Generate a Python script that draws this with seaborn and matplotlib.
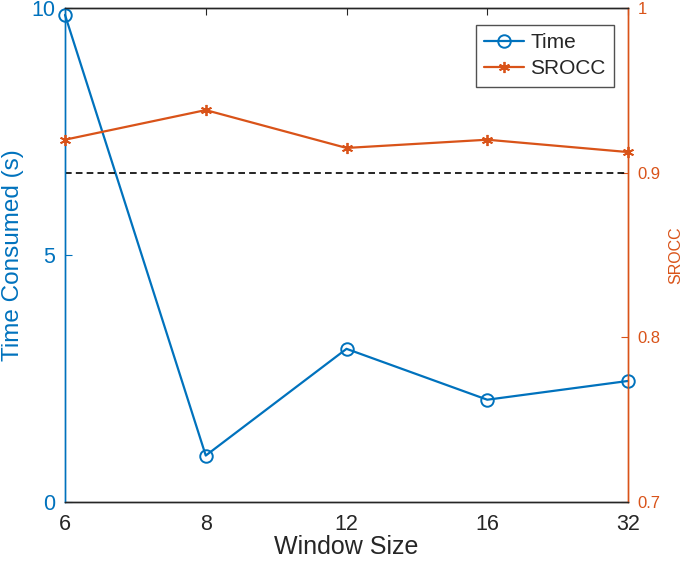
import seaborn as sns
import pandas as pd
import matplotlib.pyplot as plt

window_sizes = ['6', '8', '12', '16', '32']
time_consumed = [9.86, 0.94, 3.10, 2.07, 2.45]
srocc = [0.920, 0.938, 0.915, 0.920, 0.9125]
threshold = 0.9

blue = '#0072BD'
orange = '#D95319'

sns.set_style('white')
plt.rcParams['font.family'] = ['Liberation Sans', 'DejaVu Sans']

df = pd.DataFrame({'pos': range(len(window_sizes)), 'Time': time_consumed, 'SROCC': srocc})

fig = plt.figure(figsize=(6.85, 5.62), dpi=100)
ax = fig.add_axes([0.0949, 0.1068, 0.8219, 0.879])
ax2 = ax.twinx()

sns.lineplot(data=df, x='pos', y='Time', ax=ax, color=blue, marker='o', markersize=9,
             markerfacecolor='none', markeredgecolor=blue, markeredgewidth=1.4, linewidth=1.6,
             label='Time', legend=False, clip_on=False, zorder=5)
sns.lineplot(data=df, x='pos', y='SROCC', ax=ax2, color=orange, marker=(6, 2, 0), markersize=8,
             markeredgecolor=orange, markeredgewidth=1.3, linewidth=1.6,
             label='SROCC', legend=False, clip_on=False, zorder=5)
ax2.axhline(threshold, color='black', linestyle='--', linewidth=1.2, dashes=(4, 2.5))

ax.set_xlim(0, len(window_sizes) - 1)
ax.set_ylim(0, 10)
ax2.set_ylim(0.7, 1)
ax.set_xticks(df['pos'])
ax.set_xticklabels(window_sizes)
ax.set_yticks([0, 5, 10])
ax2.set_yticks([0.7, 0.8, 0.9, 1.0])
ax2.set_yticklabels(['0.7', '0.8', '0.9', '1'])

ax.set_xlabel('Window Size', fontsize=18, color='#262626', labelpad=0)
ax.set_ylabel('Time Consumed (s)', fontsize=17.5, color=blue, labelpad=5)
ax2.set_ylabel('SROCC', fontsize=11.5, color=orange, labelpad=5)

ax.tick_params(axis='x', direction='in', length=5, labelsize=15.5, colors='#262626', top=True, pad=9)
ax.tick_params(axis='y', direction='in', length=5, labelsize=15.5, colors=blue, pad=7)
ax2.tick_params(axis='y', direction='in', length=5, labelsize=12, colors=orange, pad=7)

for a in (ax, ax2):
    for s in a.spines.values():
        s.set_visible(True)
        s.set_linewidth(1.0)
        s.set_color('#262626')
ax2.spines['left'].set_color(blue)
ax2.spines['right'].set_color(orange)
ax.spines['left'].set_color(blue)
ax.spines['right'].set_color(orange)

h1, l1 = ax.get_legend_handles_labels()
h2, l2 = ax2.get_legend_handles_labels()
leg = ax2.legend(h1 + h2, l1 + l2, loc='upper right', bbox_to_anchor=(0.975, 0.966),
                 borderaxespad=0, fontsize=15, frameon=True, fancybox=False, edgecolor='#262626',
                 handlelength=1.9, handletextpad=0.3, borderpad=0.4, labelspacing=0.35)
leg.get_frame().set_linewidth(1.0)

fig.savefig('out.png', dpi=100)
